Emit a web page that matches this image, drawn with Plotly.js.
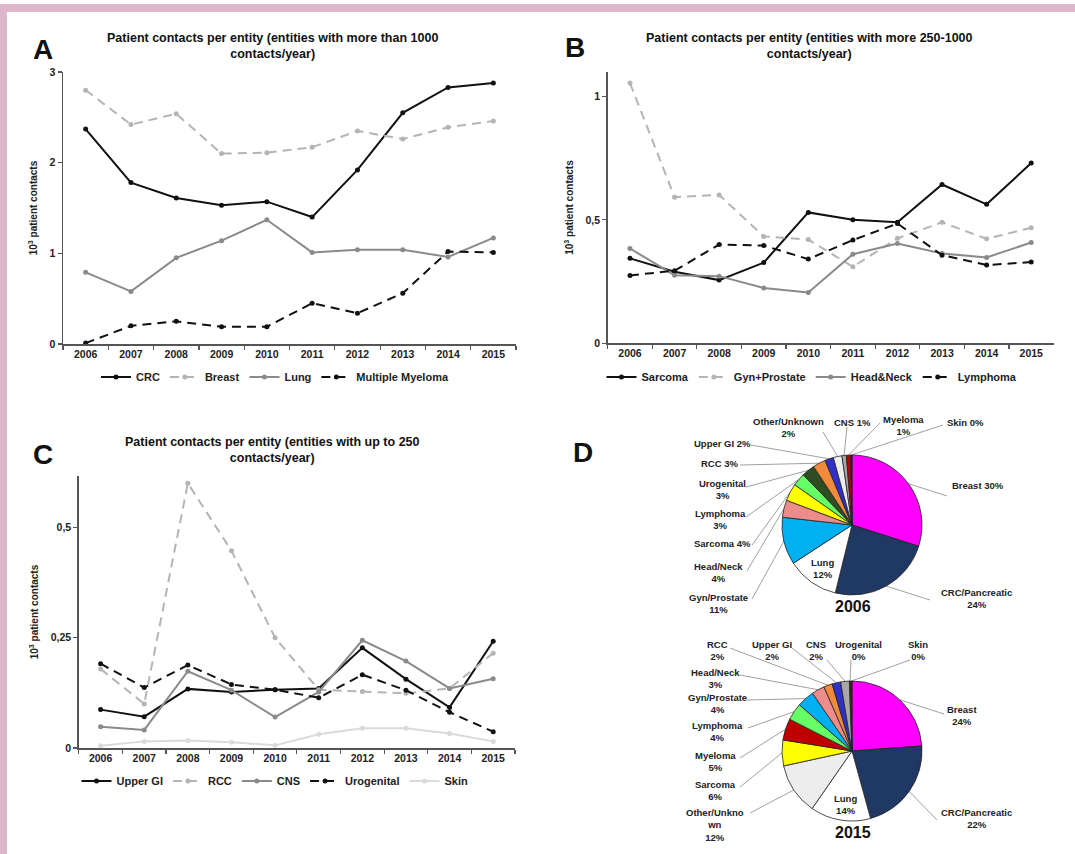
<!DOCTYPE html>
<html><head><meta charset="utf-8">
<script src="https://cdn.plot.ly/plotly-3.0.1.min.js"></script>
<style>html,body{margin:0;padding:0;background:#fff}</style>
</head><body><div id="chart" style="width:1075px;height:854px"></div>
<script>
// ---------- DATA ----------
const years = ['2006','2007','2008','2009','2010','2011','2012','2013','2014','2015'];
// Panel A (10^3 patient contacts)
const crc      = [2.37,1.78,1.61,1.53,1.57,1.40,1.92,2.55,2.83,2.88];
const breast   = [2.80,2.42,2.54,2.10,2.11,2.17,2.35,2.26,2.39,2.46];
const lung     = [0.79,0.58,0.95,1.14,1.37,1.01,1.04,1.04,0.96,1.17];
const myeloma  = [0.01,0.20,0.25,0.19,0.19,0.45,0.34,0.56,1.02,1.01];
// Panel B
const sarcoma     = [0.344,0.290,0.256,0.327,0.530,0.500,0.490,0.643,0.563,0.730];
const gynProstate = [1.054,0.592,0.601,0.433,0.420,0.310,0.425,0.490,0.423,0.468];
const headNeck    = [0.384,0.276,0.272,0.224,0.206,0.361,0.404,0.364,0.348,0.408];
const lymphoma    = [0.275,0.294,0.400,0.396,0.341,0.418,0.485,0.357,0.317,0.329];
// Panel C
const upperGI    = [0.087,0.071,0.134,0.127,0.132,0.135,0.227,0.156,0.092,0.242];
const rcc        = [0.179,0.100,0.600,0.447,0.250,0.132,0.128,0.124,0.135,0.215];
const cns        = [0.048,0.041,0.174,0.131,0.070,0.127,0.244,0.197,0.135,0.157];
const urogenital = [0.191,0.137,0.188,0.144,0.132,0.114,0.166,0.131,0.081,0.037];
const skin       = [0.005,0.015,0.017,0.013,0.006,0.031,0.045,0.045,0.033,0.015];
// Panel D – pies
const pie2006Labels = ['Breast','CRC/Pancreatic','Lung','Gyn/Prostate','Head/Neck','Sarcoma','Lymphoma','Urogenital','RCC','Upper GI','Other/Unknown','CNS','Myeloma','Skin'];
const pie2006Values = [30,24,12,11,4,4,3,3,3,2,2,1,1,0.3];
const pie2006Text   = ['Breast 30%','CRC/Pancreatic<br>24%','Lung<br>12%','Gyn/Prostate<br>11%','Head/Neck<br>4%','Sarcoma 4%','Lymphoma<br>3%','Urogenital<br>3%','RCC 3%','Upper GI 2%','Other/Unknown<br>2%','CNS 1%','Myeloma<br>1%','Skin 0%'];
const pie2015Labels = ['Breast','CRC/Pancreatic','Lung','Other/Unknown','Sarcoma','Myeloma','Lymphoma','Gyn/Prostate','Head/Neck','RCC','Upper GI','CNS','Urogenital','Skin'];
const pie2015Values = [24,22,14,12,6,5,4,4,3,2,2,2,0.3,0.3];
const pie2015Text   = ['Breast<br>24%','CRC/Pancreatic<br>22%','Lung<br>14%','Other/Unkno<br>wn<br>12%','Sarcoma<br>6%','Myeloma<br>5%','Lymphoma<br>4%','Gyn/Prostate<br>4%','Head/Neck<br>3%','RCC<br>2%','Upper GI<br>2%','CNS<br>2%','Urogenital<br>0%','Skin<br>0%'];

// ---------- STYLE / LAYOUT ----------
const W = 1075, H = 854;
const px = x => x / W, py = y => 1 - y / H;
const FONT = 'Liberation Sans, Arial, sans-serif';
const BLACK = '#111111', LGRAY = '#b4b4b4', MGRAY = '#8a8a8a', VLGRAY = '#dadada';
const DASH = '9px,6px';

const sliceColors = {
  'Breast':'#ff00ff','CRC/Pancreatic':'#1f3864','Lung':'#ffffff','Gyn/Prostate':'#00b0f0',
  'Head/Neck':'#ee8c8c','Sarcoma':'#ffff00','Lymphoma':'#66ff66','Urogenital':'#2e4d22',
  'RCC':'#f08a3c','Upper GI':'#3030c8','Other/Unknown':'#ededed','CNS':'#a8a8a8',
  'Myeloma':'#c00000','Skin':'#6b1010'
};

function line(name, y, color, dash, xa, ya, lg) {
  return {type:'scatter', mode:'lines+markers', name, x: years, y,
    xaxis: xa, yaxis: ya, legend: lg,
    line:{color, width:2, dash: dash ? DASH : 'solid'},
    marker:{color, size:5}, hoverinfo:'none'};
}

const traces = [
  line('CRC', crc, BLACK, false, 'x','y','legend'),
  line('Breast', breast, LGRAY, true, 'x','y','legend'),
  line('Lung', lung, MGRAY, false, 'x','y','legend'),
  line('Multiple Myeloma', myeloma, BLACK, true, 'x','y','legend'),
  line('Sarcoma', sarcoma, BLACK, false, 'x2','y2','legend2'),
  line('Gyn+Prostate', gynProstate, LGRAY, true, 'x2','y2','legend2'),
  line('Head&Neck', headNeck, MGRAY, false, 'x2','y2','legend2'),
  line('Lymphoma', lymphoma, BLACK, true, 'x2','y2','legend2'),
  line('Upper GI', upperGI, BLACK, false, 'x3','y3','legend3'),
  line('RCC', rcc, LGRAY, true, 'x3','y3','legend3'),
  line('CNS', cns, MGRAY, false, 'x3','y3','legend3'),
  line('Urogenital', urogenital, BLACK, true, 'x3','y3','legend3'),
  line('Skin', skin, VLGRAY, false, 'x3','y3','legend3')
];

// pie geometry (pixels)
const pie06 = {cx:852, cy:525, r:70};
const pie15 = {cx:852, cy:751, r:70};
function pieTrace(labels, values, g) {
  return {type:'pie', labels, values, sort:false, direction:'clockwise', rotation:0,
    textinfo:'none', hoverinfo:'none', showlegend:false,
    marker:{colors: labels.map(l => sliceColors[l]), line:{color:'#222', width:0.8}},
    domain:{x:[px(g.cx-g.r), px(g.cx+g.r)], y:[py(g.cy+g.r), py(g.cy-g.r)]}};
}
traces.push(pieTrace(pie2006Labels, pie2006Values, pie06));
traces.push(pieTrace(pie2015Labels, pie2015Values, pie15));

function xAx(x0, x1, anchor) {
  return {domain:[px(x0), px(x1)], anchor, type:'category', range:[-0.5, 9.5],
    showline:true, linecolor:'#555', linewidth:1.5, ticks:'outside', tickson:'boundaries',
    ticklen:4, tickcolor:'#555', tickwidth:1.2, showgrid:false, zeroline:false,
    tickfont:{family:FONT, size:10.5, color:'#222', weight:'bold'}, fixedrange:true};
}
function yAx(top, bottom, anchor, range, dtick) {
  return {domain:[py(bottom), py(top)], anchor, range, dtick, tick0:0,
    showline:true, linecolor:'#555', linewidth:1.5, ticks:'outside', ticklen:4,
    tickcolor:'#555', tickwidth:1.2, showgrid:false, zeroline:false,
    tickfont:{family:FONT, size:10.5, color:'#222', weight:'bold'},
    title:{text:'10<sup>3</sup> patient contacts', font:{family:FONT, size:10, color:'#222', weight:'bold'}, standoff:10},
    fixedrange:true};
}

function legendAt(cx, cy) {
  return {orientation:'h', x:px(cx), y:py(cy), xanchor:'center', yanchor:'middle',
    font:{family:FONT, size:11, color:'#222', weight:'bold'}, bgcolor:'rgba(0,0,0,0)',
    itemwidth:30, traceorder:'normal'};
}

const annFont = (s) => ({family:FONT, size:s, color:'#111', weight:'bold'});
const annotations = [
  {text:'A', x:px(43), y:py(50), font:annFont(28)},
  {text:'B', x:px(575), y:py(48), font:annFont(28)},
  {text:'C', x:px(43), y:py(454), font:annFont(28)},
  {text:'D', x:px(583), y:py(452), font:annFont(28)},
  {text:'Patient contacts per entity (entities with more than 1000<br>contacts/year)', x:px(272), y:py(45.5), font:annFont(12.5)},
  {text:'Patient contacts per entity (entities with more 250-1000<br>contacts/year)', x:px(809), y:py(45.5), font:annFont(12.5)},
  {text:'Patient contacts per entity (entities with up to 250<br>contacts/year)', x:px(272), y:py(449.5), font:annFont(12.5)},
  {text:'2006', x:px(853), y:py(606), font:annFont(16)},
  {text:'2015', x:px(853), y:py(832), font:annFont(16)}
].map(a => Object.assign({xref:'paper', yref:'paper', showarrow:false, xanchor:'center', yanchor:'middle'}, a));

// label positions: [textX, textY, lineStartX, lineStartY] ; null line = inside label
const place2006 = {
  'Breast':[978,486,947,496], 'CRC/Pancreatic':[976,598,930,600], 'Lung':[822,568,null,null],
  'Gyn/Prostate':[718,603,752,599], 'Head/Neck':[718,572,747,571], 'Sarcoma':[722,543,752,545],
  'Lymphoma':[720,519,746,517], 'Urogenital':[722,489,746,487], 'RCC':[720,463,740,465],
  'Upper GI':[722,443,751,445], 'Other/Unknown':[788,427,823,432], 'CNS':[852,422,847,427],
  'Myeloma':[903,425,880,423], 'Skin':[965,422,943,425]
};
const place2015 = {
  'Breast':[962,715,944,714], 'CRC/Pancreatic':[976,818,937,820], 'Lung':[845,804,null,null],
  'Other/Unknown':[715,825,750,813], 'Sarcoma':[715,790,740,787], 'Myeloma':[715,761,740,758],
  'Lymphoma':[717,731,748,728], 'Gyn/Prostate':[717,703,747,700], 'Head/Neck':[715,678,740,675],
  'RCC':[717,650,730,648], 'Upper GI':[772,650,792,648], 'CNS':[816,650,827,660],
  'Urogenital':[858,650,851,660], 'Skin':[918,650,910,660]
};

const shapes = [
  {type:'rect', xref:'paper', yref:'paper', x0:0, x1:1, y0:py(12), y1:py(4), fillcolor:'#dcb6ca', line:{width:0}, layer:'below'},
  {type:'rect', xref:'paper', yref:'paper', x0:0, x1:px(7), y0:0, y1:py(4), fillcolor:'#dcb6ca', line:{width:0}, layer:'below'}
];

function addPieLabels(labels, values, texts, g, place) {
  const total = values.reduce((a, b) => a + b, 0);
  let acc = 0;
  labels.forEach((lab, i) => {
    const mid = (acc + values[i] / 2) / total * 2 * Math.PI;
    acc += values[i];
    const rx = g.cx + g.r * Math.sin(mid), ry = g.cy - g.r * Math.cos(mid);
    const p = place[lab];
    annotations.push({xref:'paper', yref:'paper', showarrow:false, xanchor:'center', yanchor:'middle',
      x:px(p[0]), y:py(p[1]), text:texts[i], font:{family:FONT, size:9.5, color:'#222', weight:'bold'}});
    if (p[2] !== null) {
      shapes.push({type:'line', xref:'paper', yref:'paper', x0:px(p[2]), y0:py(p[3]), x1:px(rx), y1:py(ry),
        line:{color:'#a0a0a0', width:1}, layer:'below'});
    }
  });
}
addPieLabels(pie2006Labels, pie2006Values, pie2006Text, pie06, place2006);
addPieLabels(pie2015Labels, pie2015Values, pie2015Text, pie15, place2015);

const layout = {
  width: W, height: H, autosize:false,
  margin:{l:0, r:0, t:0, b:0},
  paper_bgcolor:'#ffffff', plot_bgcolor:'rgba(0,0,0,0)',
  separators:',.',
  font:{family:FONT, color:'#222'},
  xaxis: xAx(63, 516, 'y'),
  yaxis: yAx(72, 344, 'x', [0, 3], 1),
  xaxis2: xAx(607.7, 1053.5, 'y2'),
  yaxis2: yAx(71.7, 343.3, 'x2', [0, 1.1], 0.5),
  xaxis3: xAx(78.8, 515, 'y3'),
  yaxis3: yAx(476, 748, 'x3', [0, 0.6165], 0.25),
  legend: legendAt(275, 377),
  legend2: legendAt(812, 377),
  legend3: legendAt(275, 781),
  annotations, shapes
};

Plotly.newPlot('chart', traces, layout, {staticPlot:true, displayModeBar:false});
</script>
</body></html>
